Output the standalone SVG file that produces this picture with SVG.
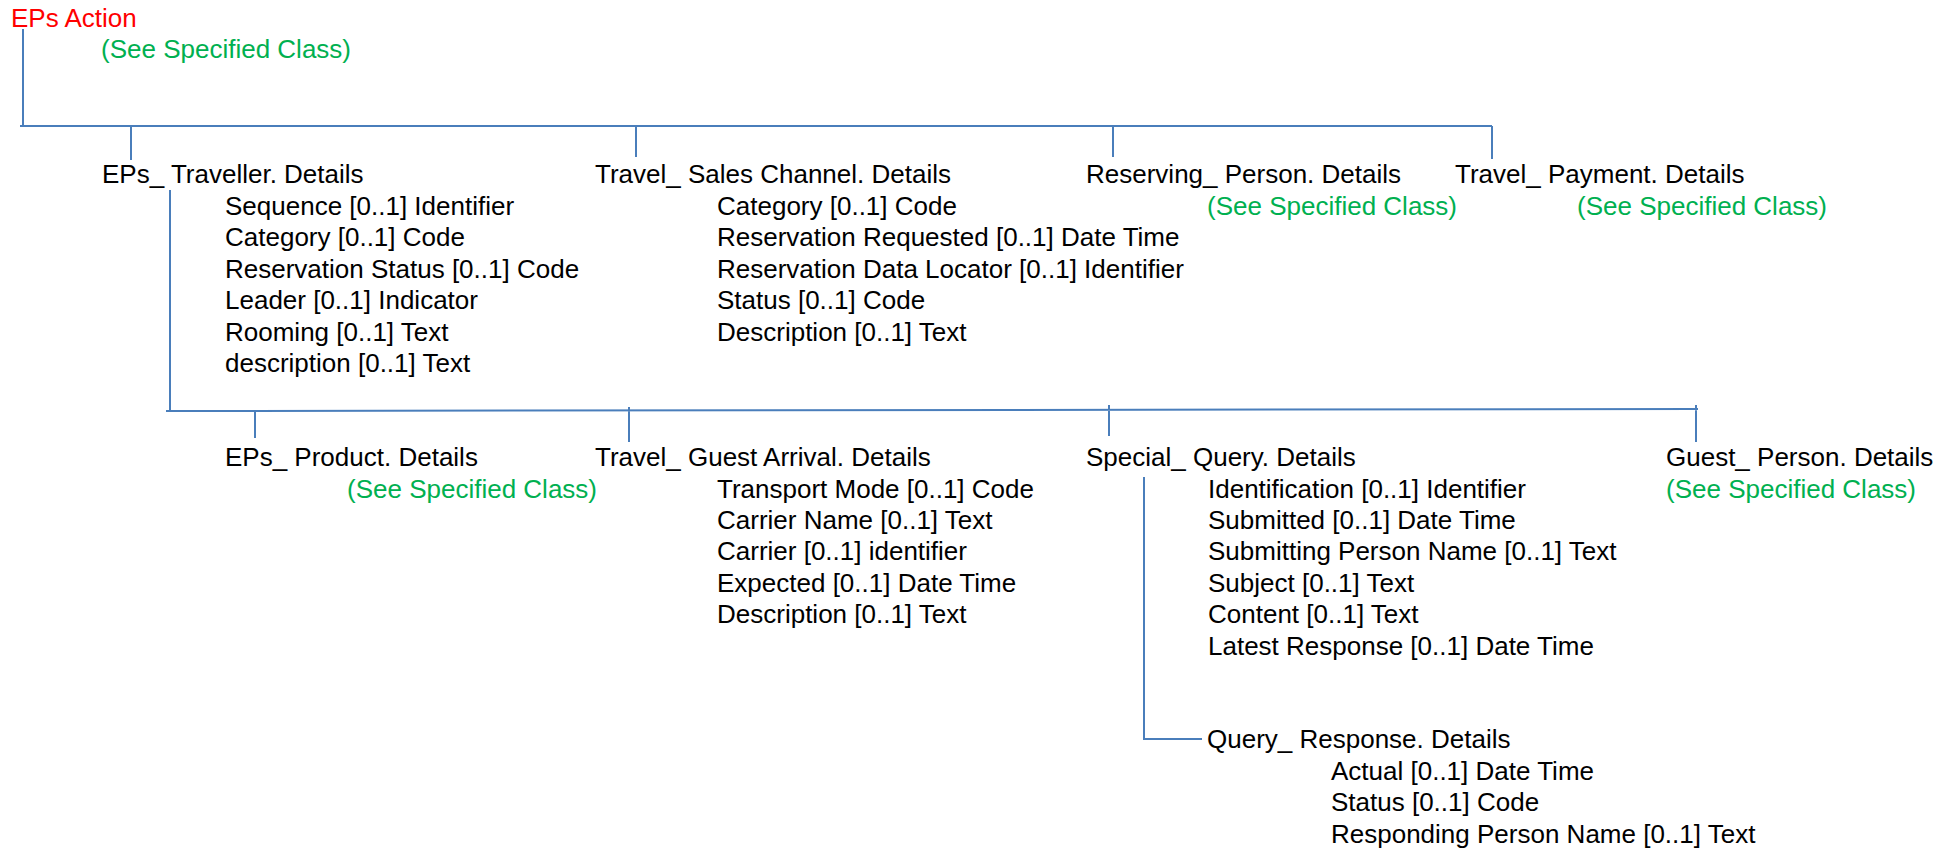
<svg xmlns="http://www.w3.org/2000/svg" width="1953" height="849" viewBox="0 0 1953 849">
<style>
text{font-family:"Liberation Sans",Arial,sans-serif;font-size:26px;fill:#000}
.red{fill:#FF0000}
.grn{fill:#00B050}
.ln{stroke:#4A7EBB;stroke-width:2;fill:none}
</style>
<rect width="1953" height="849" fill="#fff"/>
<g id="connectors">
<path class="ln" d="M23,29 V126 M20,126 H1492 M131,126 V160 M636,126 V157 M1113,126 V157 M1492,126 V159"/>
<path class="ln" d="M170,190 V411 M166,411 L1698,409 M255,411 V438 M629,407 V442 M1109,405 V436 M1696,405 V442"/>
<path class="ln" d="M1144,477 V739 H1202"/>
</g>
<g id="eps-action">
<text x="11" y="27" class="red">EPs Action</text>
<text x="101" y="58" class="grn">(See Specified Class)</text>
</g>
<g id="eps-traveller">
<text x="102" y="183">EPs_ Traveller. Details</text>
<text x="225" y="215">Sequence [0..1] Identifier</text>
<text x="225" y="246.4">Category [0..1] Code</text>
<text x="225" y="277.8">Reservation Status [0..1] Code</text>
<text x="225" y="309.2">Leader [0..1] Indicator</text>
<text x="225" y="340.6">Rooming [0..1] Text</text>
<text x="225" y="372">description [0..1] Text</text>
</g>
<g id="travel-sales-channel">
<text x="595" y="183">Travel_ Sales Channel. Details</text>
<text x="717" y="215">Category [0..1] Code</text>
<text x="717" y="246.4">Reservation Requested [0..1] Date Time</text>
<text x="717" y="277.8">Reservation Data Locator [0..1] Identifier</text>
<text x="717" y="309.2">Status [0..1] Code</text>
<text x="717" y="340.6">Description [0..1] Text</text>
</g>
<g id="reserving-person">
<text x="1086" y="183">Reserving_ Person. Details</text>
<text x="1207" y="215" class="grn">(See Specified Class)</text>
</g>
<g id="travel-payment">
<text x="1455" y="183">Travel_ Payment. Details</text>
<text x="1577" y="215" class="grn">(See Specified Class)</text>
</g>
<g id="eps-product">
<text x="225" y="466">EPs_ Product. Details</text>
<text x="347" y="497.5" class="grn">(See Specified Class)</text>
</g>
<g id="travel-guest-arrival">
<text x="595" y="466">Travel_ Guest Arrival. Details</text>
<text x="717" y="497.5">Transport Mode [0..1] Code</text>
<text x="717" y="528.9">Carrier Name [0..1] Text</text>
<text x="717" y="560.3">Carrier [0..1] identifier</text>
<text x="717" y="591.7">Expected [0..1] Date Time</text>
<text x="717" y="623.1">Description [0..1] Text</text>
</g>
<g id="special-query">
<text x="1086" y="466">Special_ Query. Details</text>
<text x="1208" y="497.5">Identification [0..1] Identifier</text>
<text x="1208" y="528.9">Submitted [0..1] Date Time</text>
<text x="1208" y="560.3">Submitting Person Name [0..1] Text</text>
<text x="1208" y="591.7">Subject [0..1] Text</text>
<text x="1208" y="623.1">Content [0..1] Text</text>
<text x="1208" y="654.5">Latest Response [0..1] Date Time</text>
</g>
<g id="guest-person">
<text x="1666" y="466">Guest_ Person. Details</text>
<text x="1666" y="497.5" class="grn">(See Specified Class)</text>
</g>
<g id="query-response">
<text x="1207" y="748">Query_ Response. Details</text>
<text x="1331" y="780">Actual [0..1] Date Time</text>
<text x="1331" y="811.4">Status [0..1] Code</text>
<text x="1331" y="842.8">Responding Person Name [0..1] Text</text>
</g>
</svg>
